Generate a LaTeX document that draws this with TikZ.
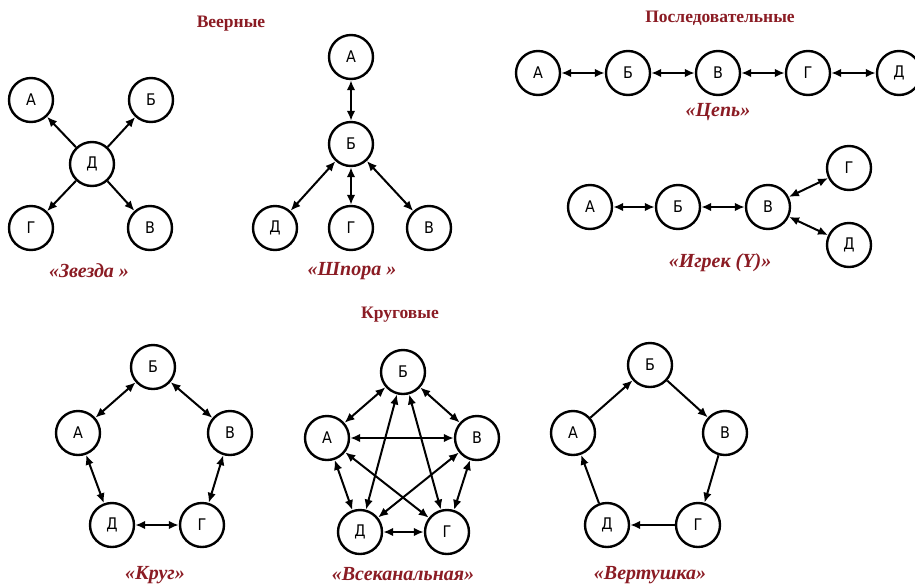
\documentclass[tikz,border=0pt]{standalone}
\usepackage{fontspec}
\setmainfont{Liberation Serif}
\newfontfamily\nodefont{DejaVu Sans Condensed}
\usetikzlibrary{arrows.meta}
\definecolor{darkred}{HTML}{8B1C24}
\tikzset{
  vert/.style={circle,draw,line width=2.4pt,minimum size=44pt,inner sep=0pt,
    font=\nodefont\fontsize{16}{16}\selectfont},
  lnk/.style={line width=2pt,-{Latex[length=10pt,width=8.5pt]}},
  dlnk/.style={line width=2pt,{Latex[length=10pt,width=8.5pt]}-{Latex[length=10pt,width=8.5pt]}},
  ttl/.style={text=darkred,font=\bfseries\fontsize{17.5}{17.5}\selectfont},
  captxt/.style={text=darkred,font=\bfseries\itshape\fontsize{20}{20}\selectfont}
}
\begin{document}
\begin{tikzpicture}[x=1pt,y=-1pt]
\useasboundingbox[fill=white] (0,0) rectangle (915,584);
% titles
\node[ttl] (t1) at (231,24) {Веерные};
\node[ttl] (t2) at (720,18) {Последовательные};
\node[ttl] (t3) at (400,315) {Круговые};
% Star
\node[vert] (sA) at (31,100) {А};
\node[vert] (sB) at (151,100) {Б};
\node[vert] (sD) at (92,164) {Д};
\node[vert] (sG) at (31,228) {Г};
\node[vert] (sV) at (150,228) {В};
\draw[lnk] (sD) -- (sA);
\draw[lnk] (sD) -- (sB);
\draw[lnk] (sD) -- (sG);
\draw[lnk] (sD) -- (sV);
\node[captxt] (c1) at (89,271) {«Звезда »};
% Spur
\node[vert] (pA) at (351,57) {А};
\node[vert] (pB) at (351,144) {Б};
\node[vert] (pD) at (275,228) {Д};
\node[vert] (pG) at (351,228) {Г};
\node[vert] (pV) at (429,228) {В};
\draw[dlnk] (pA) -- (pB);
\draw[dlnk] (pB) -- (pD);
\draw[dlnk] (pB) -- (pG);
\draw[dlnk] (pB) -- (pV);
\node[captxt] (c2) at (352,271) {«Шпора »};
% Chain
\node[vert] (cA) at (538,73) {А};
\node[vert] (cB) at (628,73) {Б};
\node[vert] (cV) at (718,73) {В};
\node[vert] (cG) at (808,73) {Г};
\node[vert] (cD) at (899,73) {Д};
\draw[dlnk] (cA) -- (cB);
\draw[dlnk] (cB) -- (cV);
\draw[dlnk] (cV) -- (cG);
\draw[dlnk] (cG) -- (cD);
\node[captxt] (c3) at (718,112) {«Цепь»};
% Y
\node[vert] (yA) at (590,207) {А};
\node[vert] (yB) at (678,207) {Б};
\node[vert] (yV) at (768,207) {В};
\node[vert] (yG) at (849,168) {Г};
\node[vert] (yD) at (849,245) {Д};
\draw[dlnk] (yA) -- (yB);
\draw[dlnk] (yB) -- (yV);
\draw[dlnk] (yV) -- (yG);
\draw[dlnk] (yV) -- (yD);
\node[captxt] (c4) at (720,263) {«Игрек (\textit{Y})»};
% Circle
\node[vert] (kB) at (153,367) {Б};
\node[vert] (kA) at (78,433) {А};
\node[vert] (kV) at (230,433) {В};
\node[vert] (kD) at (112,525) {Д};
\node[vert] (kG) at (202,525) {Г};
\draw[dlnk] (kA) -- (kB);
\draw[dlnk] (kB) -- (kV);
\draw[dlnk] (kV) -- (kG);
\draw[dlnk] (kG) -- (kD);
\draw[dlnk] (kD) -- (kA);
\node[captxt] (c5) at (155,575) {«Круг»};
% All-channel
\node[vert] (aB) at (403,372) {Б};
\node[vert] (aA) at (327,438) {А};
\node[vert] (aV) at (477,438) {В};
\node[vert] (aD) at (360,532) {Д};
\node[vert] (aG) at (447,532) {Г};
\draw[dlnk] (aA) -- (aB);
\draw[dlnk] (aB) -- (aV);
\draw[dlnk] (aV) -- (aG);
\draw[dlnk] (aG) -- (aD);
\draw[dlnk] (aD) -- (aA);
\draw[dlnk] (aA) -- (aV);
\draw[dlnk] (aA) -- (aG);
\draw[dlnk] (aB) -- (aD);
\draw[dlnk] (aB) -- (aG);
\draw[dlnk] (aV) -- (aD);
\node[captxt] (c6) at (403,574) {«Всеканальная»};
% Pinwheel
\node[vert] (wB) at (650,365) {Б};
\node[vert] (wA) at (573,433) {А};
\node[vert] (wV) at (725,433) {В};
\node[vert] (wD) at (607,525) {Д};
\node[vert] (wG) at (698,525) {Г};
\draw[lnk] (wA) -- (wB);
\draw[lnk] (wB) -- (wV);
\draw[lnk] (wV) -- (wG);
\draw[lnk] (wG) -- (wD);
\draw[lnk] (wD) -- (wA);
\node[captxt] (c7) at (650,575) {«Вертушка»};
\end{tikzpicture}
\end{document}
